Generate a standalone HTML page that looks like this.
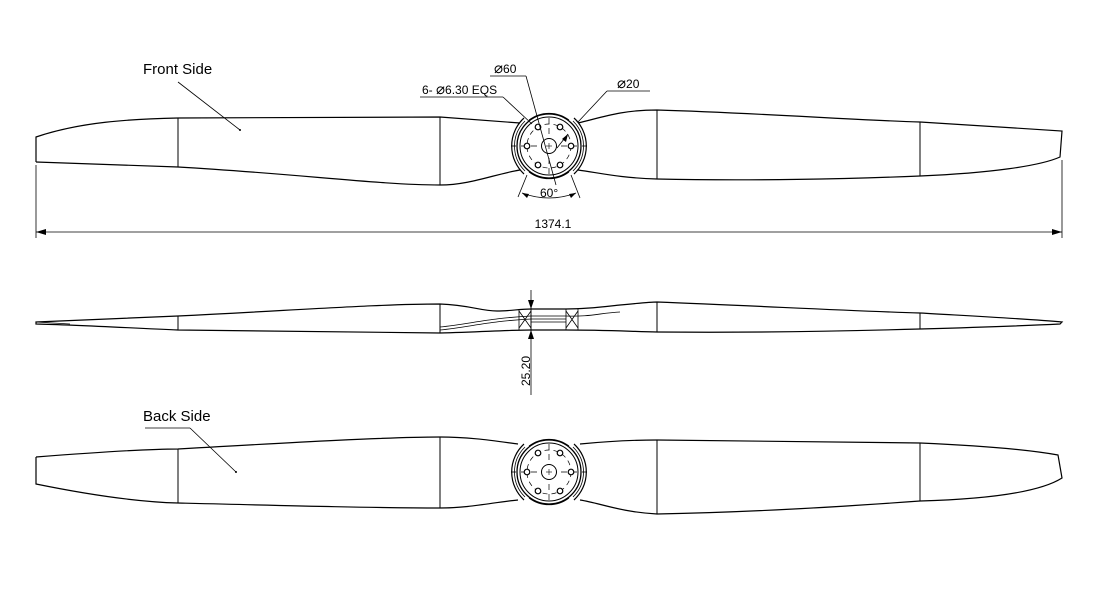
<!DOCTYPE html>
<html><head><style>
html,body{margin:0;padding:0;background:#fff;}
svg{display:block;font-family:"Liberation Sans",sans-serif;}
</style></head><body>
<svg width="1100" height="600" viewBox="0 0 1100 600" xmlns="http://www.w3.org/2000/svg">
<defs>
<g id="hub">
  <path d="M-25,-28 A38,38 0 0 0 -25,28" fill="none" stroke="#000" stroke-width="1.2"/>
  <path d="M25,-28 A38,38 0 0 1 25,28" fill="none" stroke="#000" stroke-width="1.2"/>
  <path d="M-24,-25 A35,35 0 0 0 -24,25" fill="none" stroke="#000" stroke-width="0.8"/>
  <path d="M24,-25 A35,35 0 0 1 24,25" fill="none" stroke="#000" stroke-width="0.8"/>
  <line x1="-38" y1="0" x2="-33" y2="0" stroke="#000" stroke-width="0.8"/>
  <line x1="33" y1="0" x2="38" y2="0" stroke="#000" stroke-width="0.8"/>
  <path d="M-20,-26 A33,33 0 0 1 20,-26" fill="none" stroke="#000" stroke-width="0.8"/>
  <path d="M-20,26 A33,33 0 0 0 20,26" fill="none" stroke="#000" stroke-width="0.8"/>
  <circle r="32" fill="none" stroke="#000" stroke-width="1.3"/>
  <circle r="29" fill="none" stroke="#000" stroke-width="1"/>
  <circle r="22" fill="none" stroke="#000" stroke-width="0.7" stroke-dasharray="5,4"/>
  <line x1="-28" y1="0" x2="28" y2="0" stroke="#000" stroke-width="0.7" stroke-dasharray="6,4"/>
  <line x1="0" y1="-28" x2="0" y2="28" stroke="#000" stroke-width="0.7" stroke-dasharray="6,4"/>
  <circle r="7.5" fill="#fff" stroke="#000" stroke-width="1"/>
  <line x1="-3" y1="0" x2="3" y2="0" stroke="#000" stroke-width="0.6"/>
  <line x1="0" y1="-3" x2="0" y2="3" stroke="#000" stroke-width="0.6"/>
  <g fill="#fff" stroke="#000" stroke-width="1.2">
    <circle cx="22" cy="0" r="2.8"/><circle cx="-22" cy="0" r="2.8"/>
    <circle cx="11" cy="19" r="2.8"/><circle cx="-11" cy="19" r="2.8"/>
    <circle cx="11" cy="-19" r="2.8"/><circle cx="-11" cy="-19" r="2.8"/>
  </g>
</g>
</defs>
<g fill="none" stroke="#000" stroke-width="1.2">
<!-- FRONT -->
<path d="M36,162 L36,137 C80,122 130,119 178,118 L440,117 C470,119 495,121 520,123"/>
<path d="M36,162 C90,164 140,166 178,167 C300,174 380,185 440,185 C470,185 495,174 520,170"/>
<path d="M578,123 C600,118 620,110 657,110 C760,113 850,120 920,122 L1062,131 L1060,157 C1040,166 990,173 920,176 C850,179 750,181 657,179 C620,178 600,173 578,170"/>
<g stroke-width="1"><line x1="178" y1="118" x2="178" y2="167"/><line x1="440" y1="117" x2="440" y2="185"/><line x1="657" y1="110" x2="657" y2="179"/><line x1="920" y1="122" x2="920" y2="176"/></g>
<!-- BACK -->
<path d="M36,457 L36,484 C90,495 140,502 178,503 C300,506 380,508 440,508 C470,508 495,502 518,500"/>
<path d="M36,457 C100,452 150,449 178,449 C300,442 390,437 440,437 C470,437 495,441 518,444"/>
<path d="M580,444 C610,441 630,440 657,440 C760,441 850,442 920,443 C990,446 1030,450 1058,455 L1062,478 C1040,492 990,499 920,501 C850,506 760,512 657,514 C620,512 600,503 580,500"/>
<g stroke-width="1"><line x1="178" y1="449" x2="178" y2="503"/><line x1="440" y1="437" x2="440" y2="508"/><line x1="657" y1="440" x2="657" y2="514"/><line x1="920" y1="443" x2="920" y2="501"/></g>
<!-- SIDE -->
<path d="M36,322 C100,319 150,317 178,316 C300,310 380,304 440,304 C470,305 480,311 497,311 C510,311 520,309 531,309 L566,309 C590,309 610,306 620,305 C640,303 650,302 657,302 C760,306 850,311 920,313 C990,317 1030,319 1062,322 L1060,324 C1020,326 990,327 920,329 C850,331 760,333 657,332 C620,331 600,330 566,330 L531,330 C510,330 480,332 440,333 C380,332 300,331 178,330 C130,328 80,325 36,324 Z"/>
<path d="M36,322 L70,324" stroke-width="0.8"/>
<g stroke-width="0.8">
<path d="M440,327 C470,324 490,318 531,316 L566,316 C590,317 600,313 620,312"/>
<path d="M440,330 C470,327 490,321 531,319 L566,319"/>
<line x1="531" y1="309" x2="531" y2="330"/><line x1="566" y1="309" x2="566" y2="330"/>
<line x1="519" y1="309" x2="519" y2="330"/><line x1="578" y1="309" x2="578" y2="330"/>
<path d="M519,311 L531,328 M531,311 L519,328 M566,311 L578,328 M578,311 L566,328"/>
<line x1="531" y1="322" x2="566" y2="322"/>
</g>
<line x1="178" y1="316" x2="178" y2="330" stroke-width="1"/>
<line x1="440" y1="304" x2="440" y2="333" stroke-width="1"/>
<line x1="657" y1="302" x2="657" y2="332" stroke-width="1"/>
<line x1="920" y1="313" x2="920" y2="329" stroke-width="1"/>
</g>
<use href="#hub" x="549" y="146"/>
<use href="#hub" x="549" y="472"/>
<!-- dimensions -->
<g stroke="#000" stroke-width="0.8" fill="none">
<line x1="36" y1="165" x2="36" y2="238"/><line x1="1062" y1="160" x2="1062" y2="238"/>
<line x1="36" y1="232" x2="1062" y2="232"/>
<line x1="531" y1="290" x2="531" y2="395"/>
<line x1="420" y1="97" x2="503" y2="97"/><line x1="503" y1="97" x2="532" y2="124"/>
<line x1="490" y1="76" x2="526" y2="76"/><line x1="526" y1="76" x2="556" y2="185"/>
<line x1="650" y1="91" x2="607" y2="91"/><line x1="607" y1="91" x2="578" y2="122"/>
<line x1="557" y1="148" x2="568" y2="134"/>
<line x1="527" y1="175" x2="518" y2="197"/><line x1="571" y1="175" x2="580" y2="198"/>
<path d="M522,193 Q549,203 576,193"/>
<line x1="178" y1="82" x2="240" y2="130"/>
<line x1="145" y1="428" x2="190" y2="428"/><line x1="190" y1="428" x2="236" y2="472"/>
</g>
<g fill="#000">
<path d="M36,232 l10,-3 v6 z"/><path d="M1062,232 l-10,-3 v6 z"/>
<path d="M531,309 l-3,-9 h6 z"/><path d="M531,330 l-3,9 h6 z"/>
<path d="M568,134 l-2,8 l-4,-3 z"/>
<path d="M522,193 l7,1 l-2,4 z"/><path d="M576,193 l-7,1 l2,4 z"/>
<circle cx="240" cy="130" r="1"/><circle cx="236" cy="472" r="1"/>
</g>
<g font-size="12" fill="#000">
<text x="553" y="228" text-anchor="middle">1374.1</text>
<text x="494" y="73"><tspan font-size="15">⌀</tspan>60</text>
<text x="422" y="94">6- <tspan font-size="15">⌀</tspan>6.30 EQS</text>
<text x="617" y="88"><tspan font-size="15">⌀</tspan>20</text>
<text x="540" y="197">60°</text>
<text transform="translate(530,386) rotate(-90)">25.20</text>
</g>
<g font-size="15" fill="#000">
<text x="143" y="74">Front Side</text>
<text x="143" y="421">Back Side</text>
</g>
</svg>
</body></html>
